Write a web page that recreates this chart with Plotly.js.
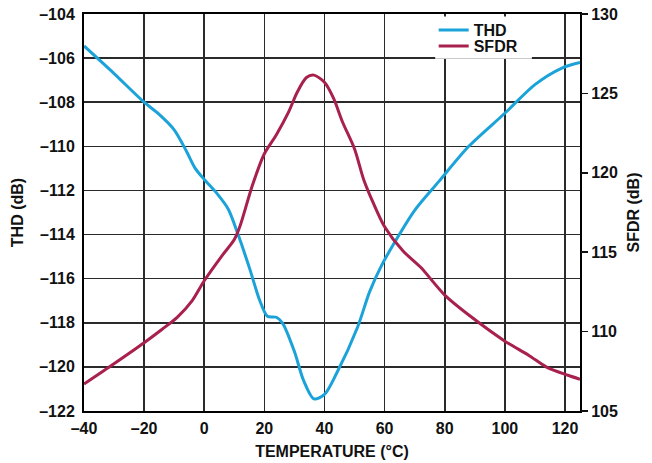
<!DOCTYPE html>
<html>
<head>
<meta charset="utf-8">
<script src="https://cdn.plot.ly/plotly-3.0.1.min.js"></script>
<style>
  html, body { margin: 0; padding: 0; background: #fff; }
  #chart { width: 652px; height: 463px; }
</style>
</head>
<body>
<div id="chart"></div>
<script>
// THD versus temperature (left axis, dB)
const thdTemp = [-40, -30, -20, -15, -10, -6, -3, 0, 4, 8, 11, 15, 18.5, 21, 24, 26, 30, 33, 36.5, 40, 44, 51, 55, 59, 64, 70, 78, 88, 100, 110, 119, 125];
const thdValues = [-105.45, -106.7, -108.0, -108.55, -109.25, -110.2, -111.0, -111.5, -112.1, -112.85, -113.9, -115.5, -117.0, -117.7, -117.75, -118.0, -119.3, -120.6, -121.45, -121.25, -120.3, -118.2, -116.6, -115.4, -114.2, -112.9, -111.6, -110.0, -108.5, -107.2, -106.45, -106.2];

// SFDR versus temperature (right axis, dB)
const sfdrTemp = [-40, -31, -20, -14, -9, -4, 0, 6, 10, 12, 16, 20, 24, 28, 31, 34, 36.5, 40, 43, 46, 50, 53, 56, 60, 66, 72, 80, 89, 100, 108, 114, 121, 125];
const sfdrValues = [106.7, 107.85, 109.3, 110.15, 110.9, 111.95, 113.2, 114.8, 115.8, 116.7, 119.2, 121.2, 122.4, 123.8, 125.1, 126.0, 126.15, 125.7, 124.7, 123.2, 121.5, 119.6, 118.2, 116.6, 115.1, 114.05, 112.3, 110.9, 109.4, 108.5, 107.75, 107.25, 107.0];

// Tick labels
const xTickVals = [-40, -20, 0, 20, 40, 60, 80, 100, 120];
const xTickText = ['\u201340', '\u201320', '0', '20', '40', '60', '80', '100', '120'];
const thdTickVals = [-122, -120, -118, -116, -114, -112, -110, -108, -106, -104];
const thdTickText = thdTickVals.map(v => '\u2013' + Math.abs(v));
const sfdrTickVals = [105, 110, 115, 120, 125, 130];
const sfdrTickText = sfdrTickVals.map(String);

const family = 'Liberation Sans, Arial, sans-serif';
const textFont = { family: family, size: 16, color: '#111', weight: 'bold' };

const traces = [
  {
    x: thdTemp, y: thdValues, name: 'THD', type: 'scatter', mode: 'lines',
    line: { color: '#1ba3d9', width: 3, shape: 'spline', smoothing: 0.8 },
    yaxis: 'y', legend: 'legend'
  },
  {
    x: sfdrTemp, y: sfdrValues, name: 'SFDR', type: 'scatter', mode: 'lines',
    line: { color: '#a8214d', width: 3, shape: 'spline', smoothing: 0.8 },
    yaxis: 'y2', legend: 'legend2'
  }
];

const legendBase = {
  xanchor: 'left', yanchor: 'top',
  bgcolor: 'rgba(0,0,0,0)', borderwidth: 0,
  font: textFont, itemwidth: 30
};

const layout = {
  width: 652, height: 463,
  margin: { l: 84, r: 72, t: 14, b: 52, pad: 0 },
  paper_bgcolor: '#fff', plot_bgcolor: '#fff',
  font: textFont,
  showlegend: true,
  legend: Object.assign({}, legendBase, { x: 0.705, y: 1.0025 }),
  legend2: Object.assign({}, legendBase, { x: 0.705, y: 0.962 }),
  xaxis: {
    range: [-40, 125], tickvals: xTickVals, ticktext: xTickText,
    tickfont: textFont,
    ticks: 'outside', ticklen: 2, tickcolor: 'rgba(0,0,0,0)',
    showgrid: true, gridcolor: '#2a2a2a', gridwidth: 1.6,
    showline: true, linecolor: '#000', linewidth: 2, mirror: true,
    zeroline: false, fixedrange: true,
    title: { text: 'TEMPERATURE (°C)', font: textFont, standoff: 10 }
  },
  yaxis: {
    range: [-122, -104], tickvals: thdTickVals, ticktext: thdTickText,
    tickfont: textFont,
    ticks: 'outside', ticklen: 4, tickcolor: 'rgba(0,0,0,0)',
    showgrid: true, gridcolor: '#2a2a2a', gridwidth: 1.6,
    showline: true, linecolor: '#000', linewidth: 2, mirror: true,
    zeroline: false, fixedrange: true,
    title: { text: 'THD (dB)', font: textFont, standoff: 12 }
  },
  yaxis2: {
    overlaying: 'y', side: 'right', anchor: 'x',
    range: [105, 130], tickvals: sfdrTickVals, ticktext: sfdrTickText,
    tickfont: textFont,
    ticks: 'outside', ticklen: 7, tickwidth: 1.5, tickcolor: '#111',
    showgrid: false, zeroline: false, showline: false, fixedrange: true,
    title: { text: 'SFDR (dB)', font: textFont, standoff: 10 }
  },
  shapes: [
    {
      // white panel behind the legend, hiding the grid there
      type: 'rect', xref: 'paper', yref: 'paper', layer: 'above',
      x0: 0.708, x1: 0.903, y0: 0.887, y1: 0.994,
      fillcolor: '#fff', line: { width: 0 }
    }
  ]
};

Plotly.newPlot('chart', traces, layout, { displayModeBar: false, staticPlot: true });
</script>
</body>
</html>
